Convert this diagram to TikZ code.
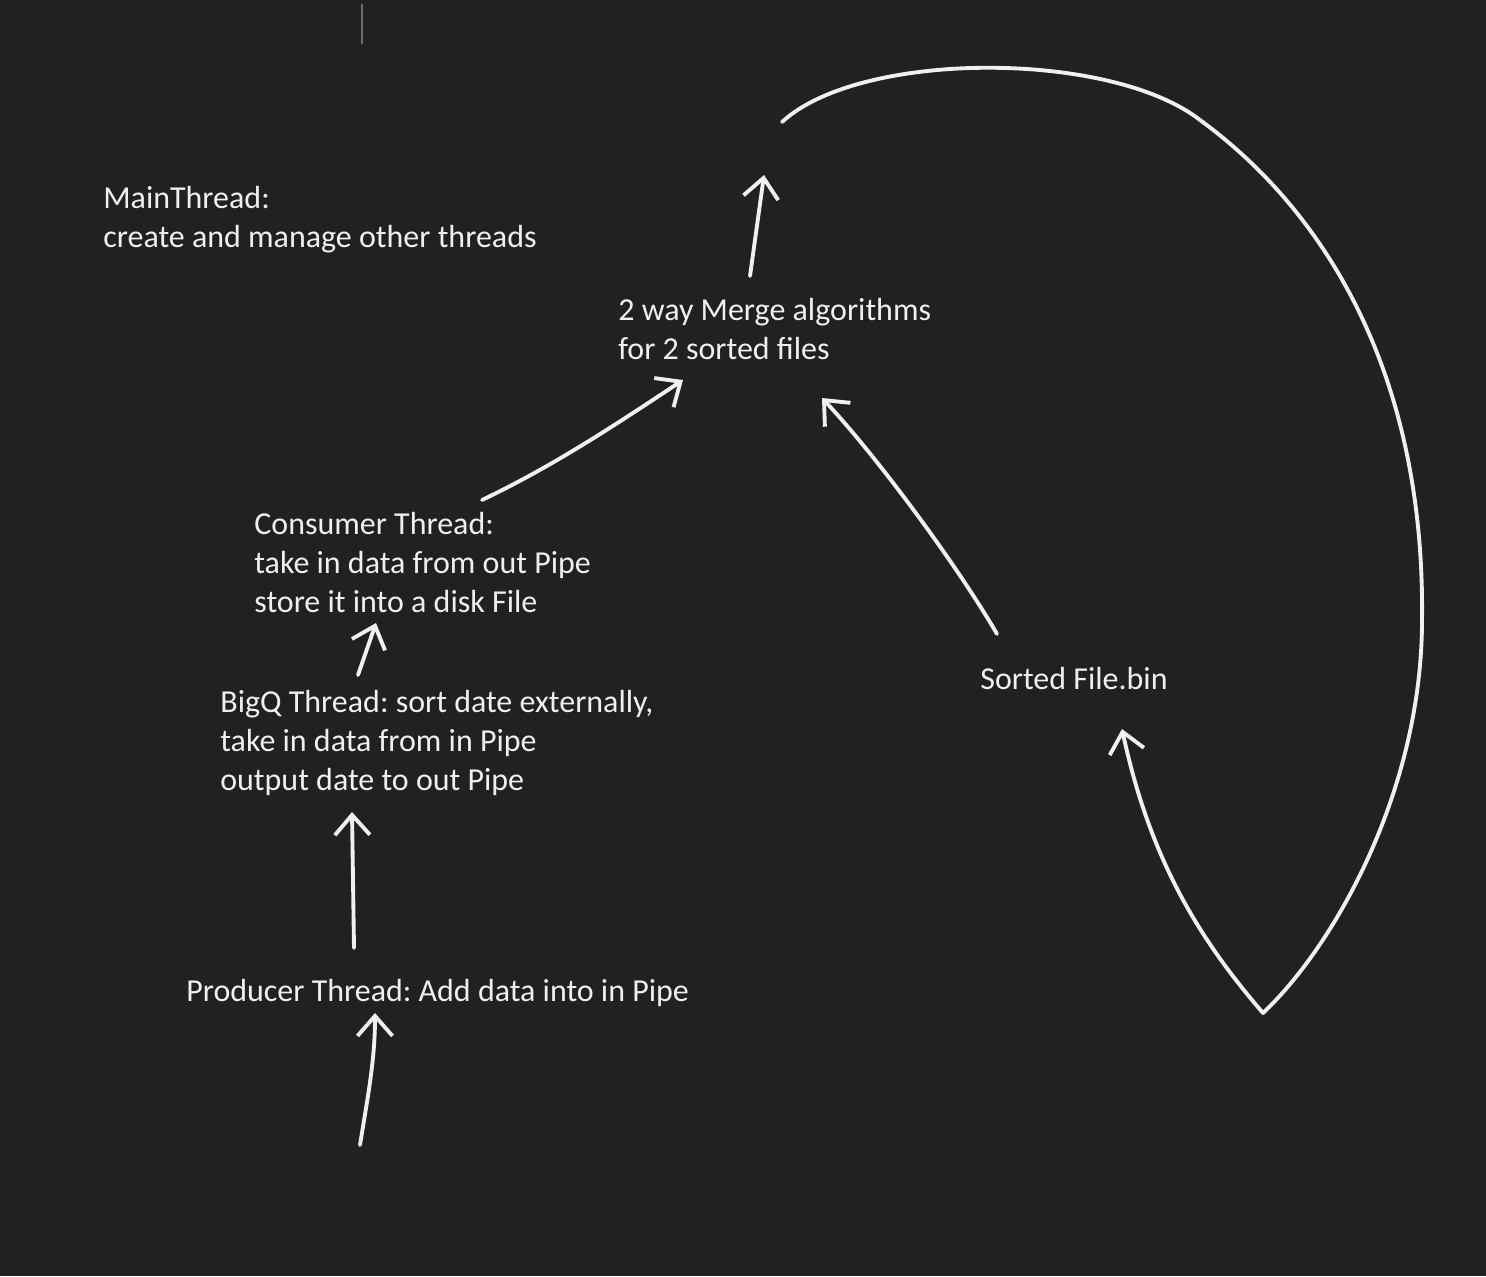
\documentclass[tikz,border=0pt]{standalone}
\usepackage{fontspec}
\setmainfont{Carlito}
\frenchspacing
\usetikzlibrary{arrows.meta,calc}
\definecolor{bg}{RGB}{33,33,32}
\definecolor{ink}{RGB}{240,240,238}
\definecolor{caret}{RGB}{110,110,108}
\begin{document}
\begin{tikzpicture}[x=0.02cm,y=-0.02cm]
    \tikzstyle{txt}=[anchor=north west,inner sep=0pt,align=left,text=ink,font=\fontsize{18.2}{22.2}\selectfont]
    \tikzstyle{hand}=[draw=ink,line width=2.2pt,line cap=round,line join=round,-{Straight Barb[length=4mm,width=7mm]}]
      \fill[bg] (0,0) rectangle (1486,1276);
      \useasboundingbox (0,0) rectangle (1486,1276);
      \draw[caret,line width=1pt] (362,4) -- (362,44);

      \node (main) at (103,186) [txt] {MainThread:\\create and manage other threads};
      \node (merge) at (618,298) [txt] {2 way Merge algorithms\\for 2 sorted files};
      \node (consumer) at (254,512) [txt] {Consumer Thread:\\take in data from out Pipe\\store it into a disk File};
      \node (bigq) at (220,690) [txt] {BigQ Thread: sort date externally,\\take in data from in Pipe\\output date to out Pipe};
      \node (producer) at (186,979) [txt] {Producer Thread: Add data into in Pipe};
      \node (sorted) at (980,667) [txt] {Sorted File.bin};
      \coordinate (src) at (360,1145);
      \coordinate (out) at (764,175);
      \coordinate (loop) at (782,122);

      \draw[hand] (src) .. controls (368,1095) and (375,1060) .. ($(producer.north west)+(189,34)$);
      \draw[hand] ($(producer.north west)+(168,-31)$) -- ($(bigq.north west)+(132,122)$);
      \draw[hand] ($(bigq.north west)+(138,-15)$) -- ($(consumer.north west)+(122,111)$);
      \draw[hand] ($(consumer.north west)+(228,-12)$) .. controls (555,465) and (615,425) .. ($(merge.north west)+(65,82)$);
      \draw[hand] ($(sorted.north west)+(17,-33)$) .. controls (960,570) and (880,460) .. ($(merge.north west)+(204,100)$);
      \draw[hand] ($(merge.north west)+(132,-22)$) -- (out);
      \draw[hand] (loop) .. controls (860,50) and (1110,50) .. (1200,120)
        .. controls (1330,215) and (1425,380) .. (1422,620)
        .. controls (1422,790) and (1335,945) .. (1263,1013)
        .. controls (1200,940) and (1150,860) .. ($(sorted.north west)+(142,62)$);
  \end{tikzpicture}
\end{document}
